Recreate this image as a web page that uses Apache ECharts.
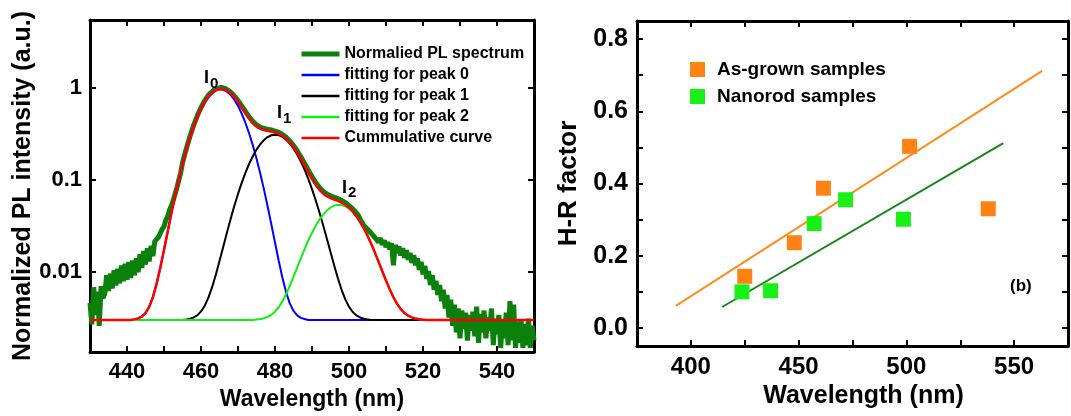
<!DOCTYPE html>
<html>
<head>
<meta charset="utf-8">
<script src="https://cdn.jsdelivr.net/npm/echarts@6/dist/echarts.min.js"></script>
<style>
  html, body { margin: 0; padding: 0; background: #ffffff; }
  #chart { width: 1071px; height: 416px; }
</style>
</head>
<body>
<div id="chart"></div>
<script>
// ---------- (a) PL spectrum, log scale ----------
// measured spectrum, sampled every 0.5 nm starting at 430 nm
const spectrumStart = 430;
const spectrumStep = 0.5;
const spectrumValues = [
  // 430.0 - 433.5
  0.0046, 0.0027, 0.0068, 0.0034, 0.0061, 0.0026, 0.0070, 0.0052,
  // 434.0 - 447.5
  0.0058, 0.0092, 0.0062, 0.0096, 0.0066, 0.0104, 0.0071, 0.0108, 0.0075, 0.0117,
  0.0079, 0.0122, 0.0082, 0.0128, 0.0086, 0.0133, 0.0092, 0.0140, 0.0099, 0.0155,
  0.0110, 0.0168, 0.0120, 0.0180, 0.0130, 0.0192, 0.0148, 0.0214,
  // 448.0 - 454.5
  0.0205, 0.0238, 0.0245, 0.0290, 0.0310, 0.0365, 0.0400, 0.0470, 0.0520, 0.0600,
  0.0700, 0.0820, 0.0990, 0.1180,
  // 455.0 - 502.0
  0.152, 0.181, 0.214, 0.252, 0.294, 0.338, 0.388, 0.437, 0.493, 0.548,
  0.606, 0.662, 0.720, 0.772, 0.823, 0.866, 0.910, 0.940, 0.968, 0.985,
  0.998, 1.000, 0.995, 0.978, 0.958, 0.926, 0.895, 0.853, 0.813, 0.766,
  0.722, 0.675, 0.632, 0.590, 0.550, 0.514, 0.481, 0.454, 0.429, 0.410,
  0.393, 0.382, 0.371, 0.365, 0.359, 0.356, 0.352, 0.349, 0.346, 0.342,
  0.337, 0.332, 0.326, 0.318, 0.310, 0.300, 0.289, 0.276, 0.263, 0.249,
  0.235, 0.220, 0.205, 0.190, 0.176, 0.163, 0.150, 0.138, 0.127, 0.117,
  0.108, 0.100, 0.093, 0.0874, 0.0822, 0.0784, 0.0748, 0.0723, 0.0699, 0.0683,
  0.0668, 0.0656, 0.0645, 0.0634, 0.0622, 0.0609, 0.0596, 0.0580, 0.0563, 0.0545,
  0.0525, 0.0503, 0.0482, 0.0458, 0.0436,
  // 502.5 - 530.0
  0.0412, 0.0372, 0.0360, 0.0318, 0.0325, 0.0290, 0.0296, 0.0262, 0.0270, 0.0236,
  0.0248, 0.0210, 0.0232, 0.0196, 0.0220, 0.0185, 0.0210, 0.0175, 0.0205, 0.0118,
  0.0196, 0.0160, 0.0188, 0.0150, 0.0180, 0.0142, 0.0172, 0.0135, 0.0160, 0.0125,
  0.0152, 0.0118, 0.0140, 0.0105, 0.0128, 0.0094, 0.0116, 0.0084, 0.0102, 0.0072,
  0.0092, 0.0064, 0.0080, 0.0056, 0.0072, 0.0048, 0.0064, 0.0040, 0.0056, 0.0032,
  0.0050, 0.0026, 0.0044, 0.0022, 0.0040, 0.0019,
  // 530.5 - 550.0
  0.0038, 0.0024, 0.0036, 0.0018, 0.0034, 0.0023, 0.0037, 0.0020, 0.0042, 0.0017,
  0.0035, 0.0022, 0.0038, 0.0019, 0.0032, 0.0023, 0.0040, 0.0016, 0.0031, 0.0021,
  0.0034, 0.0015, 0.0030, 0.0019, 0.0036, 0.0016, 0.0048, 0.0018, 0.0044, 0.0015,
  0.0029, 0.0017, 0.0030, 0.0015, 0.0027, 0.0016, 0.0031, 0.0015, 0.0026, 0.0018
];

// wavelengths (nm) at which the fitted curves are tabulated
const fitWavelengths = [
  430,
  440, 441, 442, 443, 444, 445, 446, 447, 448, 449,
  450, 451, 452, 453, 454, 455, 456, 457, 458, 459,
  460, 461, 462, 463, 464, 465, 466, 467, 468, 469,
  470, 471, 472, 473, 474, 475, 476, 477, 478, 479,
  480, 481, 482, 483, 484, 485, 486, 487, 488, 489,
  490, 491, 492, 493, 494, 495, 496, 497, 498, 499,
  500, 501, 502, 503, 504, 505, 506, 507, 508, 509,
  510, 511, 512, 513, 514, 515, 516, 517, 518, 519,
  520, 521, 522, 523, 524, 525,
  550
];

const peak0Fit = [
  0.003,
  0.003, 0.003, 0.00305, 0.00312, 0.00327, 0.00357, 0.00417, 0.00532, 0.00741, 0.01109,
  0.01732, 0.02743, 0.0432, 0.0668, 0.1006, 0.147, 0.208, 0.2842, 0.3751, 0.4777,
  0.5871, 0.696, 0.7958, 0.8776, 0.9334, 0.9573, 0.9469, 0.9034, 0.8312, 0.7375,
  0.6312, 0.5211, 0.415, 0.3189, 0.2366, 0.1696, 0.1175, 0.07895, 0.05156, 0.03294,
  0.0208, 0.01321, 0.00864, 0.00601, 0.00455, 0.00377, 0.00337, 0.00317, 0.00308, 0.003,
  0.003, 0.003, 0.003, 0.003, 0.003, 0.003, 0.003, 0.003, 0.003, 0.003,
  0.003, 0.003, 0.003, 0.003, 0.003, 0.003, 0.003, 0.003, 0.003, 0.003,
  0.003, 0.003, 0.003, 0.003, 0.003, 0.003, 0.003, 0.003, 0.003, 0.003,
  0.003, 0.003, 0.003, 0.003, 0.003, 0.003,
  0.003
];

const peak1Fit = [
  0.003,
  0.003, 0.003, 0.003, 0.003, 0.003, 0.003, 0.003, 0.003, 0.003, 0.003,
  0.003, 0.003, 0.003, 0.003, 0.003, 0.00302, 0.00305, 0.0031, 0.0032, 0.00338,
  0.00371, 0.00428, 0.00525, 0.00682, 0.0093, 0.01309, 0.01865, 0.02655, 0.0374, 0.05177,
  0.07004, 0.0924, 0.1187, 0.1482, 0.1797, 0.2118, 0.2423, 0.2691, 0.2901, 0.3034,
  0.308, 0.3038, 0.2915, 0.2722, 0.2472, 0.2185, 0.188, 0.1574, 0.1284, 0.102,
  0.07907, 0.05982, 0.04428, 0.03217, 0.02304, 0.0164, 0.01171, 0.00851, 0.00639, 0.00503,
  0.00418, 0.00367, 0.00337, 0.0032, 0.0031, 0.00305, 0.003, 0.003, 0.003, 0.003,
  0.003, 0.003, 0.003, 0.003, 0.003, 0.003, 0.003, 0.003, 0.003, 0.003,
  0.003, 0.003, 0.003, 0.003, 0.003, 0.003,
  0.003
];

const peak2Fit = [
  0.003,
  0.003, 0.003, 0.003, 0.003, 0.003, 0.003, 0.003, 0.003, 0.003, 0.003,
  0.003, 0.003, 0.003, 0.003, 0.003, 0.003, 0.003, 0.003, 0.003, 0.003,
  0.003, 0.003, 0.003, 0.003, 0.003, 0.003, 0.003, 0.003, 0.003, 0.003,
  0.003, 0.003, 0.003, 0.003, 0.003, 0.00304, 0.00308, 0.00314, 0.00325, 0.00342,
  0.0037, 0.00413, 0.00478, 0.00572, 0.00703, 0.00882, 0.01115, 0.0141, 0.01768, 0.02188,
  0.02659, 0.03164, 0.0368, 0.04178, 0.04622, 0.04982, 0.05229, 0.05343, 0.05315, 0.05145,
  0.04851, 0.04453, 0.03984, 0.03475, 0.0296, 0.02465, 0.02013, 0.01617, 0.01284, 0.01014,
  0.00804, 0.00646, 0.0053, 0.00449, 0.00394, 0.00357, 0.00334, 0.0032, 0.00311, 0.00306,
  0.00303, 0.003, 0.003, 0.003, 0.003, 0.003,
  0.003
];

const cumulativeFit = [
  0.003,
  0.003, 0.003, 0.00305, 0.00312, 0.00327, 0.00357, 0.00417, 0.00532, 0.00741, 0.01109,
  0.01732, 0.02743, 0.0432, 0.0668, 0.1006, 0.147, 0.2081, 0.2843, 0.3753, 0.4781,
  0.5878, 0.6973, 0.798, 0.8814, 0.9397, 0.9674, 0.9626, 0.927, 0.8656, 0.7863,
  0.6982, 0.6105, 0.5307, 0.4641, 0.4133, 0.3784, 0.3569, 0.3452, 0.3389, 0.3338,
  0.3265, 0.3151, 0.2989, 0.2779, 0.2528, 0.2251, 0.1965, 0.1687, 0.1432, 0.1209,
  0.1027, 0.08846, 0.07808, 0.07095, 0.06626, 0.06322, 0.061, 0.05894, 0.05654, 0.05348,
  0.04969, 0.0452, 0.04021, 0.03495, 0.0297, 0.0247, 0.02013, 0.01617, 0.01284, 0.01014,
  0.00804, 0.00646, 0.0053, 0.00449, 0.00394, 0.00357, 0.00334, 0.0032, 0.00311, 0.00306,
  0.00303, 0.003, 0.003, 0.003, 0.003, 0.003,
  0.003
];

const logTickLabels = { '-2': '0.01', '-1': '0.1', '0': '1' };

// ---------- (b) H-R factor vs wavelength ----------
const asGrownWavelength = [425, 448, 461.5, 501.5, 538];
const asGrownHR = [0.143, 0.236, 0.387, 0.503, 0.33];
const nanorodWavelength = [423.7, 437, 457.2, 471.8, 498.6];
const nanorodHR = [0.10, 0.103, 0.289, 0.355, 0.301];
// linear trend lines: [wavelength, H-R factor] at both ends
const asGrownTrend = [[393, 0.061], [563, 0.712]];
const nanorodTrend = [[414.5, 0.058], [545, 0.512]];

// ---------- styling ----------
const FONT = "'Liberation Sans', Arial, Helvetica, sans-serif";
const C_SPECTRUM = '#0b800b';
const C_PEAK0 = '#0000ff';
const C_PEAK1 = '#000000';
const C_PEAK2 = '#10f010';
const C_CUMUL = '#ff0000';
const C_ORANGE = '#ff8214';
const C_GREEN = '#18f018';
const C_ORANGE_LINE = '#ff8c1e';
const C_GREEN_LINE = '#17861a';

const pairs = (xs, ys) => xs.map((x, i) => [x, ys[i]]);
const spectrumData = spectrumValues.map((v, i) => [spectrumStart + i * spectrumStep, v]);

function frameAxis(opts) {
  return Object.assign({
    axisLine: { show: true, onZero: false, lineStyle: { color: '#000', width: 3 } },
    axisTick: { show: true, inside: true, length: 6, lineStyle: { color: '#000', width: 2 } },
    splitLine: { show: false },
    minorTick: { show: false },
    axisLabel: { show: false }
  }, opts);
}

const labelStyle = (size, margin) => ({
  show: true, color: '#000', fontFamily: FONT, fontWeight: 'bold', fontSize: size, margin: margin
});
const nameStyle = (size) => ({ color: '#000', fontFamily: FONT, fontWeight: 'bold', fontSize: size });

const option = {
  animation: false,
  backgroundColor: '#ffffff',
  grid: [
    { left: 90, top: 20, width: 444, height: 332, show: false },
    { left: 637, top: 21, width: 436, height: 325, show: false }
  ],
  xAxis: [
    frameAxis({
      gridIndex: 0, type: 'value', position: 'bottom', min: 430, max: 550, interval: 10,
      axisLabel: Object.assign(labelStyle(22, 9), { formatter: v => (v % 20 === 0 ? String(v) : '') }),
      name: 'Wavelength (nm)', nameLocation: 'middle', nameGap: 33, nameTextStyle: nameStyle(23)
    }),
    frameAxis({ gridIndex: 0, type: 'value', position: 'top', min: 430, max: 550, interval: 10 }),
    frameAxis({
      gridIndex: 1, type: 'value', position: 'bottom', min: 375, max: 575, interval: 25,
      axisLabel: Object.assign(labelStyle(24, 9), { formatter: v => (v % 50 === 0 ? String(v) : '') }),
      name: 'Wavelength (nm)', nameLocation: 'middle', nameGap: 38,
      nameTextStyle: Object.assign(nameStyle(25), { padding: [0, 0, 0, 22] })
    }),
    frameAxis({ gridIndex: 1, type: 'value', position: 'top', min: 375, max: 575, interval: 25 })
  ],
  yAxis: [
    frameAxis({
      gridIndex: 0, type: 'log', logBase: 10, position: 'left', min: 0.00135, max: 5.4,
      axisLabel: Object.assign(labelStyle(22, 8), {
        formatter: v => {
          const e = Math.log10(v), r = Math.round(e);
          return Math.abs(e - r) < 1e-6 && logTickLabels[String(r)] ? logTickLabels[String(r)] : '';
        }
      }),
      name: 'Normalized PL intensity (a.u.)', nameLocation: 'middle', nameGap: 52,
      nameTextStyle: nameStyle(25)
    }),
    frameAxis({ gridIndex: 0, type: 'log', logBase: 10, position: 'right', min: 0.00135, max: 5.4 }),
    frameAxis({
      gridIndex: 1, type: 'value', position: 'left', min: -0.05, max: 0.85,
      minInterval: 0.1, maxInterval: 0.1,
      axisLabel: Object.assign(labelStyle(25, 9), {
        formatter: v => {
          const t = Math.round(v * 10);
          return Math.abs(v * 10 - t) < 1e-6 && t >= 0 && t % 2 === 0 ? (t / 10).toFixed(1) : '';
        }
      }),
      name: 'H-R factor', nameLocation: 'middle', nameGap: 55, nameTextStyle: nameStyle(26)
    }),
    frameAxis({
      gridIndex: 1, type: 'value', position: 'right', min: -0.05, max: 0.85,
      minInterval: 0.1, maxInterval: 0.1
    })
  ],
  legend: [
    {
      orient: 'vertical', left: 299, top: 46, padding: 0, itemWidth: 38, itemHeight: 14, itemGap: 5,
      data: [
        { name: 'Normalied PL spectrum', lineStyle: { width: 5 } },
        { name: 'fitting for peak 0', lineStyle: { width: 2.5 } },
        { name: 'fitting for peak 1', lineStyle: { width: 2.5 } },
        { name: 'fitting for peak 2', lineStyle: { width: 2.5 } },
        { name: 'Cummulative curve', lineStyle: { width: 2.5 } }
      ],
      itemStyle: { opacity: 0 },
      textStyle: { color: '#000', fontFamily: FONT, fontWeight: 'bold', fontSize: 16, lineHeight: 16 },
      selectedMode: false
    },
    {
      orient: 'vertical', left: 690, top: 60, padding: 0, itemWidth: 15, itemHeight: 15, itemGap: 8,
      data: ['As-grown samples', 'Nanorod samples'],
      textStyle: { color: '#000', fontFamily: FONT, fontWeight: 'bold', fontSize: 19, lineHeight: 15, padding: [0, 0, 0, 7] },
      selectedMode: false
    }
  ],
  series: [
    {
      name: 'Normalied PL spectrum', type: 'line', xAxisIndex: 0, yAxisIndex: 0,
      data: spectrumData, symbol: 'none', clip: true, z: 1,
      lineStyle: { color: C_SPECTRUM, width: 5 }, itemStyle: { color: C_SPECTRUM }
    },
    {
      name: 'fitting for peak 0', type: 'line', xAxisIndex: 0, yAxisIndex: 0,
      data: pairs(fitWavelengths, peak0Fit), symbol: 'none', clip: true, z: 2,
      lineStyle: { color: C_PEAK0, width: 2 }, itemStyle: { color: C_PEAK0 }
    },
    {
      name: 'fitting for peak 1', type: 'line', xAxisIndex: 0, yAxisIndex: 0,
      data: pairs(fitWavelengths, peak1Fit), symbol: 'none', clip: true, z: 3,
      lineStyle: { color: C_PEAK1, width: 2 }, itemStyle: { color: C_PEAK1 }
    },
    {
      name: 'fitting for peak 2', type: 'line', xAxisIndex: 0, yAxisIndex: 0,
      data: pairs(fitWavelengths, peak2Fit), symbol: 'none', clip: true, z: 4,
      lineStyle: { color: C_PEAK2, width: 2 }, itemStyle: { color: C_PEAK2 }
    },
    {
      name: 'Cummulative curve', type: 'line', xAxisIndex: 0, yAxisIndex: 0,
      data: pairs(fitWavelengths, cumulativeFit), symbol: 'none', clip: true, z: 5,
      lineStyle: { color: C_CUMUL, width: 2.5 }, itemStyle: { color: C_CUMUL }
    },
    {
      name: 'As-grown trend', type: 'line', xAxisIndex: 2, yAxisIndex: 2,
      data: asGrownTrend, symbol: 'none', z: 2,
      lineStyle: { color: C_ORANGE_LINE, width: 2 }
    },
    {
      name: 'Nanorod trend', type: 'line', xAxisIndex: 2, yAxisIndex: 2,
      data: nanorodTrend, symbol: 'none', z: 2,
      lineStyle: { color: C_GREEN_LINE, width: 2 }
    },
    {
      name: 'As-grown samples', type: 'scatter', xAxisIndex: 2, yAxisIndex: 2,
      data: pairs(asGrownWavelength, asGrownHR), symbol: 'rect', symbolSize: 15, z: 3,
      itemStyle: { color: C_ORANGE, opacity: 1 }
    },
    {
      name: 'Nanorod samples', type: 'scatter', xAxisIndex: 2, yAxisIndex: 2,
      data: pairs(nanorodWavelength, nanorodHR), symbol: 'rect', symbolSize: 15, z: 3,
      itemStyle: { color: C_GREEN, opacity: 1 }
    }
  ],
  graphic: [
    // peak labels I0, I1, I2
    { type: 'text', left: 204, top: 69, z: 10, style: { text: 'I', font: 'bold 18px ' + FONT, fill: '#000' } },
    { type: 'text', left: 210, top: 76, z: 10, style: { text: '0', font: 'bold 15px ' + FONT, fill: '#000' } },
    { type: 'text', left: 277, top: 104, z: 10, style: { text: 'I', font: 'bold 18px ' + FONT, fill: '#000' } },
    { type: 'text', left: 283, top: 111, z: 10, style: { text: '1', font: 'bold 15px ' + FONT, fill: '#000' } },
    { type: 'text', left: 342, top: 179, z: 10, style: { text: 'I', font: 'bold 18px ' + FONT, fill: '#000' } },
    { type: 'text', left: 348, top: 185, z: 10, style: { text: '2', font: 'bold 15px ' + FONT, fill: '#000' } },
    // panel tag
    { type: 'text', left: 1010, top: 278, z: 10, style: { text: '(b)', font: 'bold 17px ' + FONT, fill: '#000' } }
  ]
};

const chart = echarts.init(document.getElementById('chart'), null, { renderer: 'canvas' });
chart.setOption(option);
</script>
</body>
</html>
